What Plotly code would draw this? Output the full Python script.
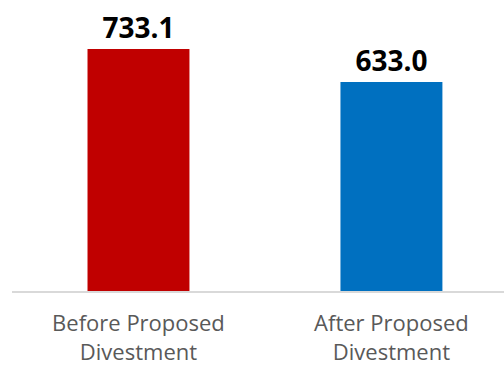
import plotly.graph_objects as go

categories = ["Before Proposed<br>Divestment", "After Proposed<br>Divestment"]
values = [733.1, 633.0]
colors = ["#C00000", "#0070C0"]

fig = go.Figure(
    go.Bar(
        x=[0, 1],
        y=values,
        width=0.403,
        marker=dict(color=colors, line=dict(width=0)),
        texttemplate="%{y:.1f}",
        textposition="outside",
        constraintext="none",
        cliponaxis=False,
        textfont=dict(family="Open Sans", size=28, color="#000000", weight="bold"),
    )
)

fig.update_layout(
    width=504,
    height=365,
    margin=dict(l=12, r=0, t=0, b=74),
    paper_bgcolor="white",
    plot_bgcolor="white",
    showlegend=False,
    font=dict(family="Open Sans"),
)
fig.update_xaxes(
    range=[-0.5, 1.445],
    tickmode="array",
    tickvals=[0, 1],
    ticktext=categories,
    tickfont=dict(size=22, color="#595959"),
    showline=True,
    linecolor="#D9D9D9",
    linewidth=2,
    showgrid=False,
    zeroline=False,
    ticks="",
    ticklabelstandoff=12,
    automargin=False,
)
fig.update_yaxes(range=[0, 881.5], visible=False, automargin=False)

fig.write_html("out.html")
